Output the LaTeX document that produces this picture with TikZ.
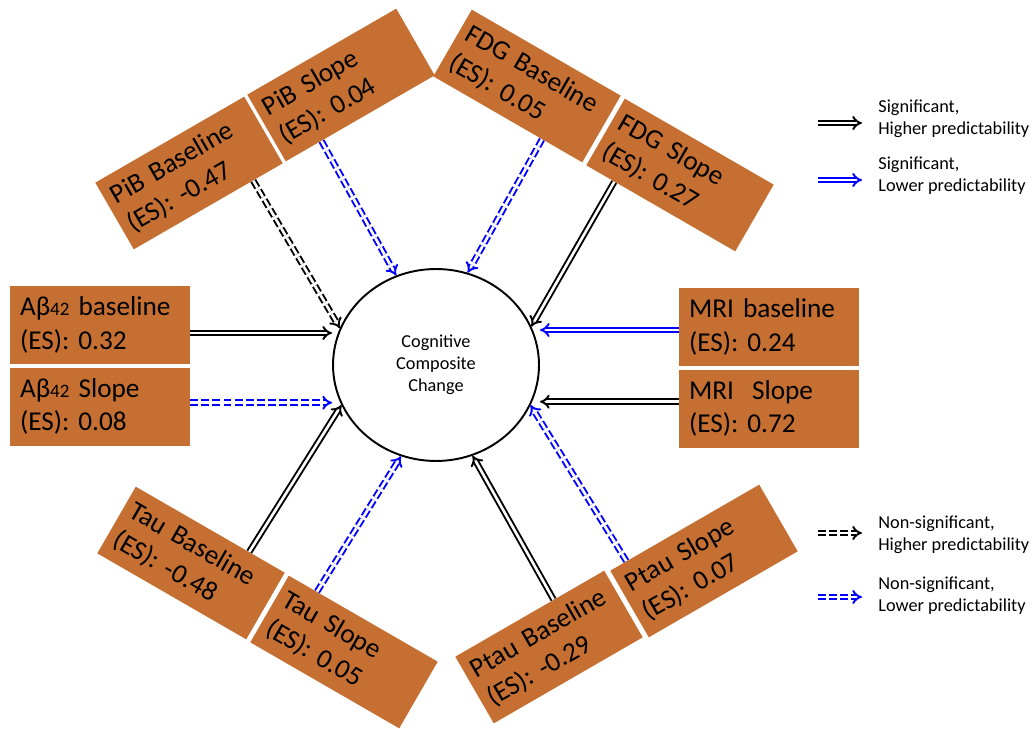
\documentclass[tikz,border=0pt]{standalone}
\usepackage{fontspec}
\setmainfont{Carlito}
\usepackage{tikz}
\usetikzlibrary{calc,positioning,shapes,arrows.meta}
\definecolor{box-orange}{RGB}{197,112,50}
\newcommand{\smallnum}[1]{{\fontsize{10.8}{12}\selectfont #1}}

\begin{document}
\begin{tikzpicture}[x=0.02cm,y=-0.02cm]

\tikzstyle{marker}=[rectangle,fill=box-orange,inner ysep=0pt,align=left,font=\fontsize{15.5}{18.9}\selectfont]
\tikzstyle{flat marker}=[marker,inner xsep=0.2cm,text width=3.2cm,minimum height=1.56cm]
\tikzstyle{tilted marker}=[marker,inner xsep=0.16cm,text width=3.12cm,minimum height=1.54cm]
\tikzstyle{outcome}=[ellipse,draw,line width=1.1pt,minimum width=4.12cm,minimum height=3.84cm,align=center,font=\fontsize{10.4}{12.4}\selectfont]
\tikzstyle{annot}=[anchor=west,inner sep=0pt,align=left,font=\fontsize{10.4}{12.4}\selectfont]
\tikzstyle{sig}=[double,line width=1.1pt,double distance=1.5pt,-{Implies}]
\tikzstyle{sig low}=[sig,draw=blue]
\tikzstyle{nonsig}=[sig,dash pattern=on 4.5pt off 1.8pt]
\tikzstyle{nonsig low}=[nonsig,draw=blue]

\useasboundingbox (0,0) rectangle (1034,729);

\node[outcome] (cc) at (436,365) {Cognitive\\Composite\\Change};

\node[flat marker] (abb) at (100,325) {Aβ\smallnum{42} baseline\\(ES): 0.32};
\node[flat marker, below=0.06cm of abb] (abs) {Aβ\smallnum{42} Slope\\(ES): 0.08};
\node[flat marker] (mrib) at (769,327) {MRI baseline\\(ES): 0.24};
\node[flat marker, below=0.06cm of mrib] (mris) {MRI\ \ Slope\\(ES): 0.72};

\node[tilted marker, rotate=30] (pibb) at (189,173) {PiB Baseline\\(ES): -0.47};
\node[tilted marker, rotate=30] (pibs) at (341,85) {PiB Slope\\(ES): 0.04};
\node[tilted marker, rotate=-30] (fdgb) at (527,86) {FDG Baseline\\(ES): 0.05};
\node[tilted marker, rotate=-30] (fdgs) at (680,175) {FDG Slope\\(ES): 0.27};
\node[tilted marker, rotate=-30] (taub) at (191,563) {Tau Baseline\\(ES): -0.48};
\node[tilted marker, rotate=-30] (taus) at (344,652) {Tau Slope\\(ES): 0.05};
\node[tilted marker, rotate=30] (ptaub) at (549,647) {Ptau Baseline\\(ES): -0.29};
\node[tilted marker, rotate=30] (ptaus) at (704,561) {Ptau Slope\\(ES): 0.07};

\draw[sig] ($(abb.east)+(0,8)$) -- ($(abb.east -| cc.west)+(0,8)$);
\draw[nonsig low] ($(abs.east)+(0,-4)$) -- ($(abs.east -| cc.west)+(0,-4)$);
\draw[sig low] ($(mrib.west)+(0,3)$) -- ($(mrib.west -| cc.east)+(0,3)$);
\draw[sig] ($(mris.west)+(0,-7)$) -- ($(mris.west -| cc.east)+(0,-7)$);

\draw[nonsig] ($(pibb.south west)!0.8!(pibb.south east)$) -- (cc.159);
\draw[nonsig low] ($(pibs.south west)!0.24!(pibs.south east)$) -- (cc.114);
\draw[nonsig low] ($(fdgb.south west)!0.73!(fdgb.south east)$) -- (cc.71);
\draw[sig] ($(fdgs.south west)!0.19!(fdgs.south east)$) -- (cc.22);
\draw[sig] ($(taub.north west)!0.76!(taub.north east)$) -- (cc.203);
\draw[nonsig low] ($(taus.north west)!0.19!(taus.north east)$) -- (cc.249);
\draw[sig] ($(ptaub.north west)!0.66!(ptaub.north east)$) -- (cc.292);
\draw[nonsig low] ($(ptaus.north west)!0.11!(ptaus.north east)$) -- (cc.337);

\node[annot] (lg1) at (878,119) {Significant,\\Higher predictability};
\node[annot] (lg2) at (878,176) {Significant,\\Lower predictability};
\node[annot] (lg3) at (878,535) {Non-significant,\\Higher predictability};
\node[annot] (lg4) at (878,596) {Non-significant,\\Lower predictability};

\coordinate (k1a) at (818,123); \coordinate (k1b) at (862,123);
\coordinate (k2a) at (818,180); \coordinate (k2b) at (862,180);
\coordinate (k3a) at (818,533); \coordinate (k3b) at (862,533);
\coordinate (k4a) at (818,597); \coordinate (k4b) at (862,597);

\draw[sig] (k1a) -- (k1b);
\draw[sig low] (k2a) -- (k2b);
\draw[nonsig] (k3a) -- (k3b);
\draw[nonsig low] (k4a) -- (k4b);

\end{tikzpicture}
\end{document}
